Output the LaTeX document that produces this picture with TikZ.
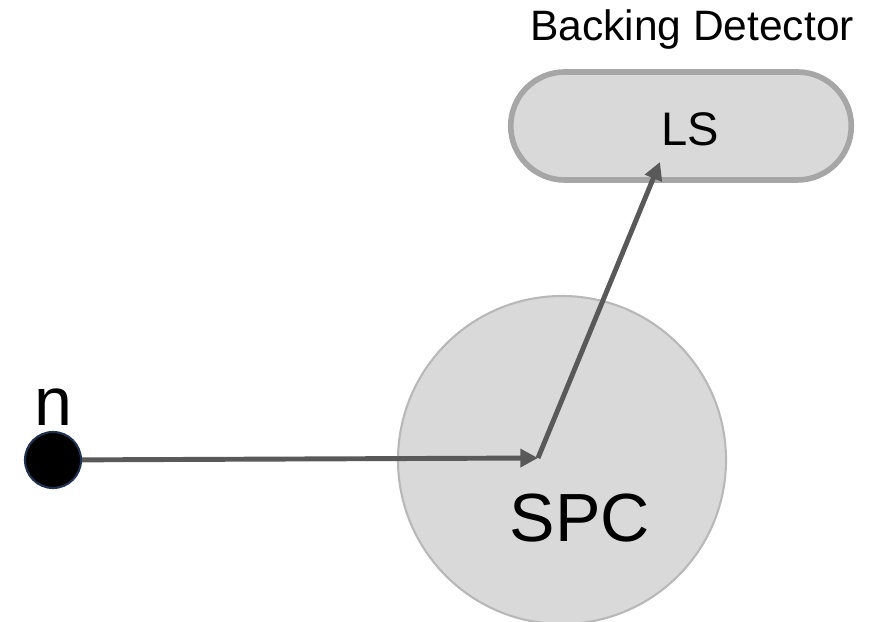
\documentclass[tikz,border=0pt]{standalone}
\usepackage{fontspec}
\setmainfont{Liberation Sans}
\usepackage{xcolor}
\usetikzlibrary{arrows.meta, positioning, shapes.misc}
\definecolor{detgray}{HTML}{D9D9D9}
\definecolor{edgegray}{HTML}{A6A6A6}
\definecolor{arrowgray}{HTML}{595959}
\definecolor{dotedge}{HTML}{1F3350}
\tikzstyle{particle}=[circle, draw=dotedge, line width=0.6pt, fill=black, inner sep=0pt, minimum size=0.56cm]
\tikzstyle{chamber}=[circle, draw=detgray!85!black, line width=0.6pt, fill=detgray, inner sep=0pt, minimum size=3.28cm]
\tikzstyle{backing}=[rounded rectangle, draw=edgegray, line width=1.6pt, fill=detgray, minimum width=3.64cm, minimum height=1.08cm]
\tikzstyle{track}=[arrowgray, line width=1.4pt, -{Triangle[length=5pt,width=5pt]}]

\begin{document}
\begin{tikzpicture}
\useasboundingbox (0,0) rectangle (8.87,6.21);
\node [chamber] (spc) at (5.62,1.61){};
\node [backing] (ls) at (6.81,4.95){};
\node [particle] (n) at (0.53,1.61){};
\coordinate (hit) at (5.38,1.63);
\coordinate (lstip) at (6.60,4.59);
% labels
\node at (5.80,1.03) {\fontsize{19.4}{23}\selectfont SPC};
\node at (6.90,4.92) {\fontsize{13.4}{16}\selectfont LS};
\node [above=-0.07cm of n] (nlab) {\fontsize{19.4}{23}\selectfont n};
\node (title) at (6.92,5.91) {\fontsize{12.1}{14}\selectfont Backing Detector};
% tracks
\draw [track] (n) -- (hit);
\draw [track] (hit) -- (lstip);
\end{tikzpicture}
\end{document}
